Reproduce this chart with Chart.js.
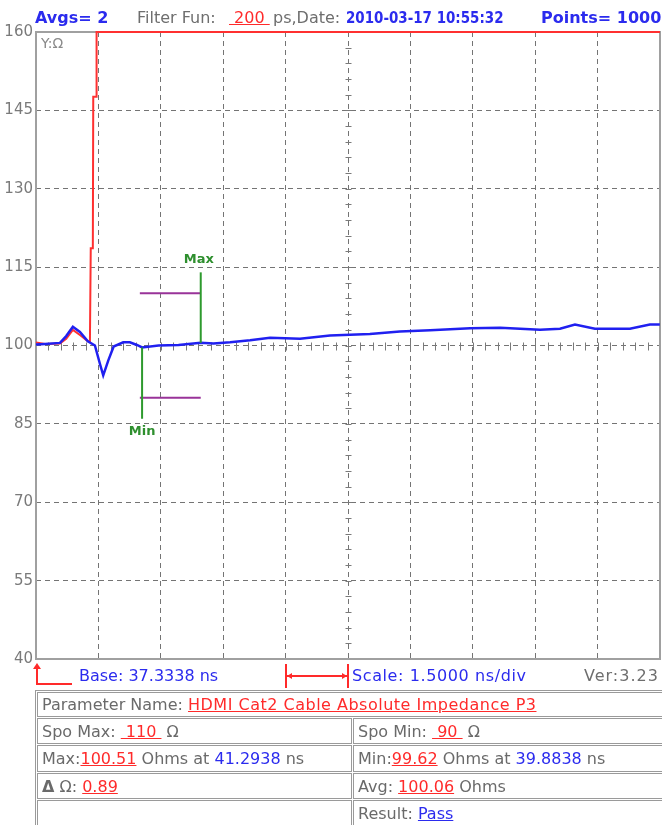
<!DOCTYPE html>
<html>
<head>
<meta charset="utf-8">
<script src="https://cdn.jsdelivr.net/npm/chart.js@4"></script>
<style>
  body { margin: 0; width: 662px; height: 825px; overflow: hidden; background: #fff; position: relative; font-family: "DejaVu Sans", sans-serif; }
  #wrap { position: absolute; left: 0; top: 0; width: 662px; height: 690px; }
  .t { position: absolute; white-space: pre; font-size: 16px; line-height: 20px; top: 8px; }
  .bb { color: #2b2bee; font-weight: bold; }
  .g { color: #6e6e6e; }
  .r { color: #ff2a2a; text-decoration: underline; }
  .bl { color: #2b2bee; }
  .lbl { position: absolute; white-space: pre; font-size: 16px; line-height: 20px; top: 666px; }
  #info { position: absolute; left: 35px; top: 690px; width: 640px; table-layout: fixed; border-collapse: separate; border-spacing: 1px; border: 1px solid #9a9a9a; font-size: 16px; color: #6a6a6a; }
  #info td { border: 1px solid #9a9a9a; padding: 0 4px; white-space: pre; overflow: hidden; }
</style>
</head>
<body>
<div id="wrap"><canvas id="chart"></canvas></div>

<span class="t bb" style="left:35px">Avgs= 2</span>
<span class="t g" style="left:137px">Filter Fun: </span>
<span class="t r" style="left:229px"> 200 </span>
<span class="t g" style="left:273px">ps,Date:</span>
<span class="t bb" style="left:346px; transform: scaleX(0.84); transform-origin: left center">2010-03-17 10:55:32</span>
<span class="t bb" style="left:541px">Points= 1000</span>

<span class="lbl bl" style="left:79px">Base: 37.3338 ns</span>
<span class="lbl bl" style="left:352px; letter-spacing:0.6px">Scale: 1.5000 ns/div</span>
<span class="lbl g" style="left:584px; letter-spacing:1px">Ver:3.23</span>

<table id="info">
  <colgroup><col style="width:315px"><col></colgroup>
  <tr style="height:25px"><td colspan="2">Parameter Name: <span class="r" style="letter-spacing:0.5px">HDMI Cat2 Cable Absolute Impedance P3</span></td></tr>
  <tr style="height:26px"><td>Spo Max: <span class="r"> 110 </span> Ω</td><td>Spo Min: <span class="r"> 90 </span> Ω</td></tr>
  <tr style="height:27px"><td>Max:<span class="r">100.51</span> Ohms at <span class="bl">41.2938</span> ns</td><td>Min:<span class="r">99.62</span> Ohms at <span class="bl">39.8838</span> ns</td></tr>
  <tr style="height:26px"><td><b>Δ</b> Ω: <span class="r">0.89</span></td><td>Avg: <span class="r">100.06</span> Ohms</td></tr>
  <tr style="height:26px"><td></td><td>Result: <span class="bl" style="text-decoration:underline">Pass</span></td></tr>
</table>

<script>
// axis setup (ns / ohm)
const xMin = 37.3338;
const xStep = 1.5;
const xDivs = 10;
const yMin = 40;
const yMax = 160;
const yStep = 15;

const blueNs = [37.334, 37.55, 37.91, 38.06, 38.22, 38.39, 38.58, 38.75, 38.87, 38.95, 39.07, 39.2,
  39.43, 39.59, 39.76, 39.884, 40.28, 40.76, 41.2938, 41.6, 42.0, 42.48, 42.96, 43.68, 44.4,
  45.36, 46.08, 46.81, 47.77, 48.49, 49.45, 49.93, 50.29, 50.77, 51.61, 52.09, 52.33];
const blueOhm = [100.2, 100.3, 100.5, 101.8, 103.6, 102.6, 100.8, 100.0, 96.5, 94.3, 97.1, 99.8,
  100.6, 100.6, 100.1, 99.62, 100.0, 100.1, 100.51, 100.4, 100.6, 101.0, 101.5, 101.3, 101.9,
  102.2, 102.7, 102.9, 103.3, 103.4, 103.0, 103.2, 104.0, 103.2, 103.2, 104.0, 104.0];

// reference trace (red), open end clipped at top of screen
const redNs = [37.334, 37.55, 37.91, 38.06, 38.22, 38.39, 38.58, 38.63, 38.65, 38.7, 38.71, 38.78, 38.79, 52.3338];
const redOhm = [100.6, 100.3, 100.4, 101.3, 103.0, 102.0, 100.8, 100.8, 118.6, 118.6, 147.6, 147.6, 160, 160];

// spec limits and markers
const spcMax = 110;
const spcMin = 90;
const limitFrom = 39.83;
const maxAt = 41.2938, maxVal = 100.51, maxTop = 114;
const minAt = 39.8838, minVal = 99.62, minBottom = 86;

const xMax = xMin + xStep * xDivs;
const pts = (xs, ys) => xs.map((v, i) => ({ x: v, y: ys[i] }));

const decor = {
  id: 'decor',
  beforeDatasetsDraw(chart) {
    const { ctx, chartArea: a, scales: { x, y } } = chart;
    ctx.save();
    ctx.strokeStyle = '#7a7a7a';
    ctx.lineWidth = 1;
    // small ticks along the 100 ohm line
    const yc = Math.round(y.getPixelForValue(100)) + 0.5;
    for (let i = 0; i <= xDivs * 5; i++) {
      const px = Math.round(x.getPixelForValue(xMin + i * xStep / 5)) + 0.5;
      ctx.beginPath(); ctx.moveTo(px, yc - 4); ctx.lineTo(px, yc + 4); ctx.stroke();
    }
    // small ticks along the centre time line
    const xc = Math.round(x.getPixelForValue(xMin + 5 * xStep)) + 0.5;
    const nY = (yMax - yMin) / yStep * 5;
    for (let i = 0; i <= nY; i++) {
      const py = Math.round(y.getPixelForValue(yMin + i * yStep / 5)) + 0.5;
      ctx.beginPath(); ctx.moveTo(xc - 3, py); ctx.lineTo(xc + 3, py); ctx.stroke();
    }
    // frame
    ctx.strokeStyle = '#a0a0a0';
    ctx.lineWidth = 2;
    ctx.strokeRect(a.left, a.top, a.width, a.height);
    ctx.fillStyle = '#8a8a8a';
    ctx.font = '14px "DejaVu Sans"';
    ctx.fillText('Y:Ω', a.left + 5, a.top + 16);
    ctx.restore();
  },
  afterDraw(chart) {
    const { ctx, chartArea: a, scales: { x, y } } = chart;
    ctx.save();
    ctx.fillStyle = '#2e8f2e';
    ctx.font = 'bold 13px "DejaVu Sans"';
    ctx.textAlign = 'center';
    ctx.textBaseline = 'middle';
    ctx.fillText('Max', x.getPixelForValue(maxAt) - 2, y.getPixelForValue(maxTop) - 13);
    ctx.fillText('Min', x.getPixelForValue(minAt), y.getPixelForValue(minBottom) + 13);

    // base marker under the left edge
    ctx.strokeStyle = '#ff2a2a';
    ctx.fillStyle = '#ff2a2a';
    ctx.lineWidth = 2;
    const bx = a.left + 1;
    ctx.beginPath();
    ctx.moveTo(bx, a.bottom + 8); ctx.lineTo(bx, a.bottom + 25); ctx.lineTo(bx + 35, a.bottom + 25);
    ctx.stroke();
    ctx.beginPath();
    ctx.moveTo(bx, a.bottom + 4); ctx.lineTo(bx - 4, a.bottom + 10); ctx.lineTo(bx + 4, a.bottom + 10);
    ctx.closePath(); ctx.fill();

    // one-division scale bracket
    const s0 = Math.round(x.getPixelForValue(xMin + 4 * xStep));
    const s1 = Math.round(x.getPixelForValue(xMin + 5 * xStep));
    const sy = a.bottom + 17;
    ctx.beginPath();
    ctx.moveTo(s0, a.bottom + 5); ctx.lineTo(s0, a.bottom + 29);
    ctx.moveTo(s1, a.bottom + 5); ctx.lineTo(s1, a.bottom + 29);
    ctx.moveTo(s0, sy); ctx.lineTo(s1, sy);
    ctx.stroke();
    ctx.beginPath();
    ctx.moveTo(s0 + 1, sy); ctx.lineTo(s0 + 6, sy - 3); ctx.lineTo(s0 + 6, sy + 3); ctx.closePath();
    ctx.moveTo(s1 - 1, sy); ctx.lineTo(s1 - 6, sy - 3); ctx.lineTo(s1 - 6, sy + 3); ctx.closePath();
    ctx.fill();
    ctx.restore();
  }
};

new Chart(document.getElementById('chart'), {
  type: 'line',
  data: {
    datasets: [
      { data: pts(blueNs, blueOhm), borderColor: '#2020f0', borderWidth: 2.5, order: 1 },
      { data: pts(redNs, redOhm), borderColor: '#ff3030', borderWidth: 2, order: 2, clip: 4 },
      { data: pts([limitFrom, maxAt], [spcMax, spcMax]), borderColor: '#993399', borderWidth: 2, order: 3 },
      { data: pts([limitFrom, maxAt], [spcMin, spcMin]), borderColor: '#993399', borderWidth: 2, order: 3 },
      { data: pts([maxAt, maxAt], [maxVal, maxTop]), borderColor: '#2e9a2e', borderWidth: 2, order: 0 },
      { data: pts([minAt, minAt], [minVal, minBottom]), borderColor: '#2e9a2e', borderWidth: 2, order: 0 }
    ]
  },
  options: {
    responsive: true,
    maintainAspectRatio: false,
    animation: false,
    events: [],
    elements: { point: { radius: 0 }, line: { tension: 0 } },
    layout: { padding: { top: 32, right: 2, bottom: 31, left: 0 } },
    plugins: { legend: { display: false }, tooltip: { enabled: false } },
    scales: {
      x: {
        type: 'linear',
        min: xMin,
        max: xMax,
        ticks: { display: false, stepSize: xStep },
        afterBuildTicks(scale) {
          scale.ticks = Array.from({ length: xDivs + 1 }, (_, i) => ({ value: xMin + i * xStep }));
        },
        afterFit(scale) { scale.height = 0; },
        grid: { color: '#747474', lineWidth: 1, drawTicks: false },
        border: { display: false, dash: [5, 4] }
      },
      y: {
        min: yMin,
        max: yMax,
        ticks: { stepSize: yStep, padding: 3, color: '#7a7a7a', font: { family: 'DejaVu Sans', size: 15 } },
        afterFit(scale) { scale.width = 36; },
        grid: { color: '#747474', lineWidth: 1, drawTicks: false },
        border: { display: false, dash: [5, 4] }
      }
    }
  },
  plugins: [decor]
});
</script>
</body>
</html>
